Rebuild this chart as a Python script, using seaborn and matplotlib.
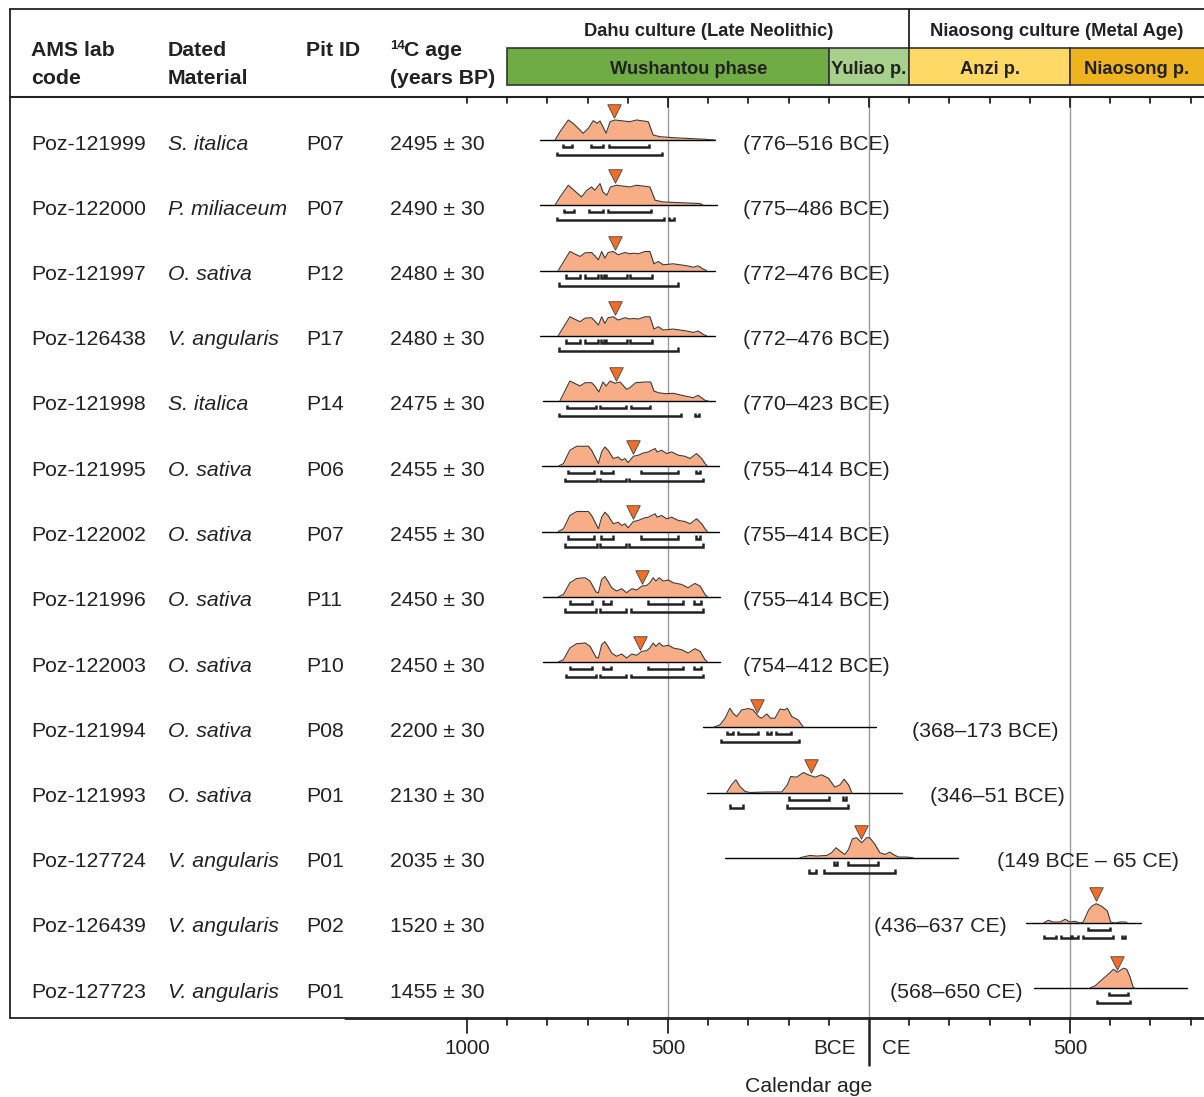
import numpy as np
import matplotlib
matplotlib.use("Agg")
import matplotlib.pyplot as plt
from matplotlib.patches import Rectangle
import seaborn as sns

# ---- table columns ----
lab_codes = ["Poz-121999", "Poz-122000", "Poz-121997", "Poz-126438", "Poz-121998",
             "Poz-121995", "Poz-122002", "Poz-121996", "Poz-122003", "Poz-121994",
             "Poz-121993", "Poz-127724", "Poz-126439", "Poz-127723"]
materials = ["S. italica", "P. miliaceum", "O. sativa", "V. angularis", "S. italica",
             "O. sativa", "O. sativa", "O. sativa", "O. sativa", "O. sativa",
             "O. sativa", "V. angularis", "V. angularis", "V. angularis"]
pit_ids = ["P07", "P07", "P12", "P17", "P14", "P06", "P07", "P11", "P10",
           "P08", "P01", "P01", "P02", "P01"]
c14_age = [2495, 2490, 2480, 2480, 2475, 2455, 2455, 2450, 2450, 2200, 2130, 2035, 1520, 1455]
c14_err = [30, 30, 30, 30, 30, 30, 30, 30, 30, 30, 30, 30, 30, 30]
range_text = ["(776–516 BCE)", "(775–486 BCE)", "(772–476 BCE)", "(772–476 BCE)",
              "(770–423 BCE)", "(755–414 BCE)", "(755–414 BCE)", "(755–414 BCE)",
              "(754–412 BCE)", "(368–173 BCE)", "(346–51 BCE)", "(149 BCE – 65 CE)",
              "(436–637 CE)", "(568–650 CE)"]

# ---- calibrated probability curves (calendar year, relative height) ----
yr_121999 = [-781, -769, -748, -736, -719, -711, -698, -686, -676, -669, -662, -654,
             -644, -632, -595, -578, -549, -537, -520, -487, -420, -383]
h_121999 = [0, 8, 20, 16.7, 10, 6.7, 11.7, 19.3, 16.7, 19, 13.3, 6.7,
            18.3, 20, 18.3, 20, 18.3, 5, 3.3, 2.3, 1, 0]
yr_122000 = [-781, -769, -748, -715, -702, -690, -682, -669, -662, -652, -643, -628,
             -595, -578, -545, -532, -512, -478, -420, -412]
h_122000 = [0, 8, 20, 8.3, 15, 18.3, 15, 21.7, 13.3, 10, 18.3, 20,
            18.3, 20, 18.3, 5, 3.3, 2.7, 1.7, 0]
yr_121997 = [-773, -744, -719, -706, -690, -682, -673, -665, -657, -649, -636, -624, -607,
             -595, -586, -574, -557, -545, -535, -524, -512, -487, -453, -437, -425, -412, -404]
h_121997 = [0, 19, 14, 17.7, 18, 14.7, 10.7, 19, 12.3, 18, 19, 15.7, 18,
            16.7, 17.3, 16.7, 19, 19, 6.7, 9, 5.7, 6.7, 4.7, 3.3, 4.7, 1.3, 0]
yr_126438 = yr_121997
h_126438 = h_121997
yr_121998 = [-769, -744, -719, -706, -690, -682, -672, -662, -654, -644, -632, -619, -603,
             -595, -580, -557, -543, -535, -524, -507, -487, -458, -437, -425, -408, -400]
h_121998 = [0, 20, 15, 18.3, 18.3, 15, 9, 19, 15, 20, 17.7, 19, 11.7,
            13.3, 18.3, 19, 19, 10, 8.3, 7.3, 7.7, 5, 3.3, 5.7, 0.7, 0]
yr_121995 = [-773, -760, -744, -727, -698, -690, -673, -665, -657, -649, -636, -624, -615,
             -607, -599, -586, -574, -561, -549, -541, -532, -527, -516, -503, -491, -474,
             -458, -445, -429, -416, -408, -402]
h_121995 = [0, 2.7, 16, 20, 20, 16, 2.7, 14.3, 19.3, 16, 7.7, 9.3, 6,
            7.7, 3.7, 10, 11, 13.3, 14.3, 16, 17.7, 14.3, 16, 12.7, 14.3, 11,
            10, 7.7, 12.7, 7.7, 2.7, 0]
yr_122002 = yr_121995
h_122002 = h_121995
yr_121996 = [-773, -760, -744, -727, -706, -694, -679, -673, -665, -657, -649, -640, -628,
             -615, -603, -590, -578, -565, -553, -545, -537, -530, -522, -512, -499, -487,
             -466, -450, -433, -420, -408, -402]
h_121996 = [0, 2.3, 14, 18.3, 19, 15.7, 4.7, 4, 17.3, 20.3, 15.3, 9, 5.7,
            8, 4, 8, 6.7, 10.7, 11.3, 14, 19, 15.7, 19, 15.7, 16.7, 14,
            12.3, 9, 13.3, 10.7, 2.3, 0]
yr_122003 = yr_121996
h_122003 = h_121996
yr_121994 = [-387, -371, -358, -346, -338, -329, -317, -300, -288, -275, -267, -254,
             -245, -234, -221, -211, -203, -192, -184, -176, -163]
h_121994 = [0, 2.3, 9, 19, 14, 10.7, 17.3, 18.7, 17.3, 10.7, 9, 13.3,
            9, 9, 18.3, 17.3, 19, 10.7, 9, 7.3, 0]
yr_121993 = [-354, -342, -331, -321, -308, -296, -254, -217, -203, -195, -180, -163,
             -151, -134, -118, -101, -85, -72, -62, -51, -43]
h_121993 = [0, 7.7, 12.7, 6, 1, 0, 0.5, 0.5, 7.7, 16, 15.3, 20,
            17.7, 15.3, 17.7, 14.3, 5.3, 7.7, 13.3, 7.7, 0]
yr_127724 = [-172, -147, -130, -105, -93, -82, -72, -60, -51, -41, -31, -18,
             -6, 2, 15, 27, 40, 52, 60, 73, 94, 110]
h_127724 = [0, 2.3, 1.7, 2.3, 5, 10, 6.7, 3.3, 8.3, 19, 20, 15,
            20, 20, 13.3, 5, 3.3, 5.7, 3.3, 0.7, 0.7, 0]
yr_126439 = [434, 446, 458, 475, 488, 500, 512, 525, 533, 546, 554, 565,
             579, 593, 601, 612, 624, 637, 643]
h_126439 = [0, 2.7, 1, 1, 3.7, 1, 1.7, 0, 1, 12.7, 16.7, 19.3,
            16.7, 12, 1, 0, 1, 1, 0]
yr_127723 = [548, 562, 579, 600, 608, 618, 633, 641, 649, 657, 662]
h_127723 = [0, 2.3, 8.3, 15.7, 19, 16, 20, 19, 11.7, 1, 0]

curve_years = [yr_121999, yr_122000, yr_121997, yr_126438, yr_121998, yr_121995, yr_122002,
               yr_121996, yr_122003, yr_121994, yr_121993, yr_127724, yr_126439, yr_127723]
curve_heights = [h_121999, h_122000, h_121997, h_126438, h_121998, h_121995, h_122002,
                 h_121996, h_122003, h_121994, h_121993, h_127724, h_126439, h_127723]

# plotted calibration window and median
window_from = [-818, -818, -818, -818, -810, -814, -814, -810, -810, -412, -404, -358, 391, 410]
window_to = [-383, -379, -383, -383, -383, -373, -373, -371, -371, 17, 81, 221, 677, 790]
median_year = [-634, -632, -632, -632, -629, -586, -586, -565, -570, -278, -145, -20, 564, 618]

# 68.2 % and 95.4 % ranges
range68 = [
    [(-760, -738), (-691, -661), (-646, -547)],
    [(-758, -733), (-696, -661), (-649, -542)],
    [(-754, -719), (-707, -673), (-667, -659), (-653, -603), (-595, -541)],
    [(-754, -719), (-707, -673), (-667, -659), (-653, -603), (-595, -541)],
    [(-752, -680), (-669, -605), (-593, -545)],
    [(-748, -684), (-666, -638), (-568, -474), (-430, -420)],
    [(-748, -684), (-666, -638), (-568, -474), (-430, -420)],
    [(-744, -690), (-662, -642), (-549, -462), (-435, -419)],
    [(-744, -690), (-662, -642), (-549, -462), (-435, -419)],
    [(-354, -338), (-325, -275), (-254, -244), (-231, -195)],
    [(-198, -99), (-65, -57)],
    [(-86, -80), (-51, 23)],
    [(544, 600)],
    [(597, 645)],
]
range95 = [
    [(-776, -516)],
    [(-775, -510), (-497, -486)],
    [(-772, -476)],
    [(-772, -476)],
    [(-770, -468), (-433, -423)],
    [(-755, -677), (-669, -605), (-596, -414)],
    [(-755, -677), (-669, -605), (-596, -414)],
    [(-755, -679), (-669, -605), (-592, -414)],
    [(-754, -679), (-669, -605), (-592, -412)],
    [(-368, -173)],
    [(-346, -313), (-203, -51)],
    [(-149, -132), (-112, 65)],
    [(436, 465), (477, 502), (506, 519), (532, 606), (629, 637)],
    [(568, 650)],
]

# ---- cultural chronology ----
culture_names = ["Dahu culture (Late Neolithic)", "Niaosong culture (Metal Age)"]
culture_start = [-900, 100]
culture_end = [100, 850]
period_names = ["Wushantou phase", "Yuliao p.", "Anzi p.", "Niaosong p."]
period_start = [-900, -100, 100, 500]
period_end = [-100, 100, 500, 850]
period_colors = ["#6FAC46", "#A8D08D", "#FFD966", "#EEB31F"]

# ---- layout (pixels of the 1204 x 1097 canvas) ----
W, H = 1204, 1097
PX_PER_YEAR = 0.402
ZERO_PX = 869


def px(x):
    return (x - ZERO_PX) / PX_PER_YEAR


ROW0, ROWH = 140, 65.25
FS = 15.3
FILL = "#F7AE86"
TRI = "#F26E28"
INK = "#222222"
label_px = [743] * 9 + [912, 930, 997, 1007, 1023]
label_side = ["left"] * 12 + ["right", "right"]
period_label_px = [689, 869, 990, 1137]

sns.set_theme(style="white")
plt.rcParams["font.family"] = ["Liberation Sans", "DejaVu Sans"]

fig = plt.figure(figsize=(W / 100, H / 100), dpi=100)
ax = fig.add_axes([0, 0, 1, 1])
ax.set_xlim(px(0), px(W))
ax.set_ylim(H, 0)
ax.axis("off")

# frame lines
ax.plot([px(10), px(W)], [9, 9], color=INK, lw=1.3)
ax.plot([px(10), px(10)], [9, 1018], color=INK, lw=1.3)
ax.plot([px(10), px(W)], [97, 97], color=INK, lw=1.5)
ax.plot([px(10), px(345)], [1018, 1018], color=INK, lw=1.3)
ax.plot([px(345), px(W)], [1018, 1018], color=INK, lw=2.0)

# reference lines
for yv in [-500, 0, 500]:
    ax.plot([yv, yv], [97, 1018], color="#9a9a9a", lw=1.0, zorder=1)

# ticks
tick_years = np.arange(-1000, 801, 100)
for t in tick_years:
    major = t in (-1000, -500, 0, 500)
    ax.plot([t, t], [97, 107 if t in (-500, 0, 500) else 103], color=INK, lw=1.3)
    if t == 0:
        ax.plot([t, t], [1018, 1065], color=INK, lw=1.8)
    else:
        ax.plot([t, t], [1018, 1033 if major else 1025], color=INK, lw=1.3)

for t, lab in [(-1000, "1000"), (-500, "500"), (500, "500")]:
    ax.text(t, 1048, lab, ha="center", va="center", fontsize=14.9, color=INK)
ax.text(px(856), 1048, "BCE", ha="right", va="center", fontsize=14.9, color=INK)
ax.text(px(882), 1048, "CE", ha="left", va="center", fontsize=14.9, color=INK)
ax.text(px(809), 1086, "Calendar age", ha="center", va="center", fontsize=FS, color=INK)

# culture header
for name, s, e in zip(culture_names, culture_start, culture_end):
    ax.text((s + min(e, px(W))) / 2, 36, name, ha="center", va="baseline",
            fontsize=13.2, fontweight="bold", color=INK)
ax.plot([100, 100], [9, 48], color=INK, lw=1.3)
for name, s, e, c, lx in zip(period_names, period_start, period_end, period_colors, period_label_px):
    ax.add_patch(Rectangle((s, 48), e - s, 37, facecolor=c, edgecolor="#333333", lw=1.2))
    ax.text(px(lx), 74, name, ha="center", va="baseline", fontsize=13.2,
            fontweight="bold", color=INK)

# column headers
hdr = dict(fontsize=FS, fontweight="bold", color=INK, va="baseline", ha="left")
ax.text(px(31), 56, "AMS lab", **hdr)
ax.text(px(31), 84, "code", **hdr)
ax.text(px(168), 56, "Dated", **hdr)
ax.text(px(168), 84, "Material", **hdr)
ax.text(px(306), 56, "Pit ID", **hdr)
ax.text(px(390), 49, "14", fontsize=9.5, fontweight="bold", color=INK, va="baseline", ha="left")
ax.text(px(404), 56, "C age", **hdr)
ax.text(px(390), 84, "(years BP)", **hdr)

# rows
for i in range(len(lab_codes)):
    yb = ROW0 + ROWH * i
    ty = yb + 9.5
    ax.text(px(31), ty, lab_codes[i], fontsize=FS, color=INK, va="baseline")
    ax.text(px(168), ty, materials[i], fontsize=FS, style="italic", color=INK, va="baseline")
    ax.text(px(306), ty, pit_ids[i], fontsize=FS, color=INK, va="baseline")
    ax.text(px(390), ty, f"{c14_age[i]} ± {c14_err[i]}", fontsize=FS, color=INK, va="baseline")
    ax.text(px(label_px[i]), ty, range_text[i], fontsize=FS, color=INK,
            va="baseline", ha=label_side[i])

    ax.plot([window_from[i], window_to[i]], [yb, yb], color="black", lw=1.0, zorder=3)
    yrs = np.array(curve_years[i], dtype=float)
    hts = np.array(curve_heights[i], dtype=float)
    ax.fill_between(yrs, yb, yb - hts, color=FILL, lw=0, zorder=2)
    sns.lineplot(x=yrs, y=yb - hts, ax=ax, color="#3a3a3a", lw=0.8,
                 sort=False, estimator=None, zorder=3)

    h_med = np.interp(median_year[i], yrs, hts)
    sns.scatterplot(x=[median_year[i]], y=[yb - h_med - 9.5], ax=ax, marker="v", s=95,
                    color=TRI, edgecolor="#444444", linewidth=0.6, zorder=4)

    for lo, hi in range68[i]:
        y = yb + 7
        ax.plot([lo, lo, hi, hi], [y - 3.5, y, y, y - 3.5], color=INK, lw=1.8,
                solid_joinstyle="miter", solid_capstyle="butt")
    for lo, hi in range95[i]:
        y = yb + 15
        ax.plot([lo, lo, hi, hi], [y - 3.5, y, y, y - 3.5], color=INK, lw=1.8,
                solid_joinstyle="miter", solid_capstyle="butt")

fig.savefig("out.png", dpi=100)
